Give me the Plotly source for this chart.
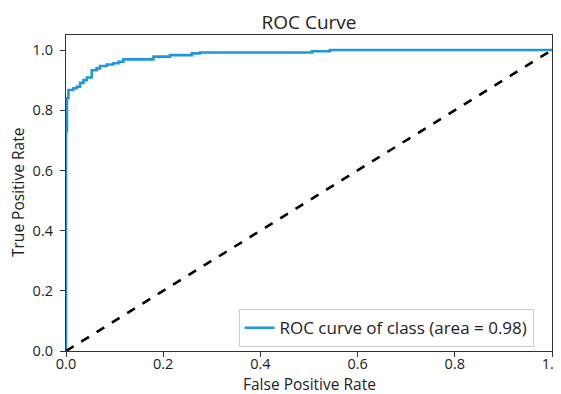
import plotly.graph_objects as go

fpr = [0, 0, 0.002, 0.002, 0.005, 0.005, 0.015, 0.015, 0.022, 0.022, 0.029, 0.029,
       0.036, 0.036, 0.043, 0.043, 0.053, 0.053, 0.063, 0.063, 0.070, 0.070, 0.084,
       0.084, 0.097, 0.097, 0.108, 0.108, 0.118, 0.118, 0.180, 0.180, 0.214, 0.214,
       0.259, 0.259, 0.276, 0.276, 0.506, 0.506, 0.543, 0.543, 1.0]
tpr = [0, 0.73, 0.73, 0.84, 0.84, 0.867, 0.867, 0.873, 0.873, 0.878, 0.878, 0.891,
       0.891, 0.900, 0.900, 0.909, 0.909, 0.933, 0.933, 0.939, 0.939, 0.947, 0.947,
       0.952, 0.952, 0.956, 0.956, 0.961, 0.961, 0.969, 0.969, 0.978, 0.978, 0.983,
       0.983, 0.989, 0.989, 0.992, 0.992, 0.996, 0.996, 1.0, 1.0]
chance_x = [0, 1]
chance_y = [0, 1]
area = 0.98
tick_vals = [0.0, 0.2, 0.4, 0.6, 0.8, 1.0]
tick_text = ["0.0", "0.2", "0.4", "0.6", "0.8", "1.0"]

FONT = "Open Sans"
TXT = "#222222"

# page body has an 8px margin, so the figure is 8px smaller than the window
W, H = 553, 386

fig = go.Figure()
fig.add_trace(go.Scatter(x=fpr, y=tpr, mode="lines",
                         line=dict(color="#1f97dc", width=2.6),
                         name=f"ROC curve of class (area = {area:.2f})"))
fig.add_trace(go.Scatter(x=chance_x, y=chance_y, mode="lines",
                         line=dict(color="black", width=2.6, dash="dash"),
                         showlegend=False))

axis_common = dict(showgrid=False, zeroline=False, showline=True, linecolor="#333333",
                   linewidth=1.2, mirror=True, ticks="outside", ticklen=5,
                   tickcolor="#333333", tickwidth=1, automargin=False,
                   ticklabeloverflow="allow",
                   tickvals=tick_vals, ticktext=tick_text,
                   tickfont=dict(family=FONT, size=14.5, color=TXT))

fig.update_layout(
    width=W, height=H,
    margin=dict(l=58, r=9, t=27, b=43, autoexpand=False),
    paper_bgcolor="white", plot_bgcolor="white",
    title=dict(text="ROC Curve", x=0.5, xanchor="center", xref="paper",
               y=1 - 14/H, yanchor="middle",
               font=dict(family=FONT, size=19, color=TXT)),
    xaxis=dict(range=[0, 1], ticklabelstandoff=-6, **axis_common),
    yaxis=dict(range=[0, 1.05], ticklabelstandoff=4, **axis_common),
    legend=dict(x=0.962, y=0.012, xanchor="right", yanchor="bottom",
                bgcolor="white", bordercolor="#cccccc", borderwidth=1,
                itemwidth=30,
                font=dict(family=FONT, size=17, color=TXT)),
    showlegend=True,
    annotations=[
        dict(text="False Positive Rate", xref="paper", yref="paper", x=0.5, y=0,
             xanchor="center", yanchor="middle", yshift=-33, showarrow=False,
             font=dict(family=FONT, size=15.5, color=TXT)),
        dict(text="True Positive Rate", xref="paper", yref="paper", x=0, y=0.5,
             xanchor="center", yanchor="middle", xshift=-48, textangle=-90,
             showarrow=False, font=dict(family=FONT, size=15.5, color=TXT)),
    ],
)

fig.write_html("out.html")
